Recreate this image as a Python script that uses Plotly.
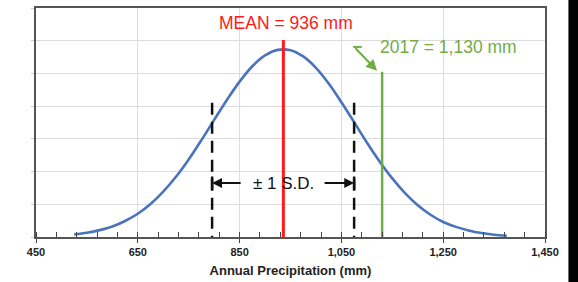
import plotly.graph_objects as go

# ---- data ----
curve_x = [525, 550, 575, 600, 625, 650, 675, 700, 725, 750, 775, 800, 825,
           850, 875, 900, 925, 950, 975, 1000, 1025, 1050, 1075, 1100, 1125,
           1150, 1175, 1200, 1225, 1250, 1275, 1300, 1325, 1350, 1375]
curve_y = [0.08, 0.13, 0.21, 0.32, 0.49, 0.71, 1.01, 1.39, 1.84, 2.37, 2.96,
           3.58, 4.19, 4.75, 5.22, 5.55, 5.72, 5.71, 5.52, 5.17, 4.69, 4.12,
           3.51, 2.89, 2.31, 1.79, 1.34, 0.97, 0.68, 0.46, 0.31, 0.20, 0.12,
           0.07, 0.04]

mean_value = 936
sd_values = [796, 1075]
year_value = 1130

mean_top = 6.02
sd_top = 4.1
year_top = 5.05

x_tickvals = [450, 650, 850, 1050, 1250, 1450]
x_ticktext = ["450", "650", "850", "1,050", "1,250", "1,450"]
y_gridvals = [0, 1, 2, 3, 4, 5, 6, 7]

mean_label = "MEAN = 936 mm"
year_label = "2017 = 1,130 mm"
sd_label = "± 1 S.D."
x_title = "Annual Precipitation (mm)"

FONT = "Liberation Sans, Arial, sans-serif"
BLUE = "#4a73bd"
RED = "#ff1a1a"
GREEN = "#70ad47"

fig = go.Figure()

fig.add_trace(go.Scatter(x=curve_x, y=curve_y, mode="lines",
                         line=dict(color=BLUE, width=2.6, shape="spline"),
                         hoverinfo="skip", showlegend=False))

# vertical marker lines
fig.add_trace(go.Scatter(x=[mean_value, mean_value], y=[0, mean_top], mode="lines",
                         line=dict(color=RED, width=3), showlegend=False,
                         hoverinfo="skip"))
fig.add_trace(go.Scatter(x=[year_value, year_value], y=[0, year_top], mode="lines",
                         line=dict(color=GREEN, width=2.5), showlegend=False,
                         hoverinfo="skip"))
for v in sd_values:
    fig.add_trace(go.Scatter(x=[v, v], y=[sd_top, 0], mode="lines",
                             line=dict(color="#111111", width=2.5, dash="12px,7px"),
                             showlegend=False, hoverinfo="skip"))

# text labels
fig.add_annotation(x=941, y=6.54, text=mean_label, showarrow=False,
                   font=dict(family=FONT, size=17.5, color=RED))
fig.add_annotation(x=1261, y=5.81, text=year_label, showarrow=False,
                   font=dict(family=FONT, size=17.5, color=GREEN))
fig.add_annotation(x=mean_value, y=1.65, text=sd_label, showarrow=False,
                   font=dict(family=FONT, size=17, color="#111111"))

# green arrow
fig.add_annotation(x=1120, y=5.08, ax=-23, ay=-24, text="", showarrow=True,
                   arrowhead=2, arrowsize=1.1, arrowwidth=2, arrowcolor=GREEN,
                   axref="pixel", ayref="pixel")
fig.add_shape(type="line", x0=1073, x1=1090, y0=5.81, y1=5.81,
              line=dict(color=GREEN, width=2))

# ± 1 S.D. arrows
fig.add_annotation(x=sd_values[0], y=1.65, ax=30, ay=0, text="", showarrow=True,
                   arrowhead=2, arrowsize=1.1, arrowwidth=1.8, arrowcolor="#111111")
fig.add_annotation(x=sd_values[1], y=1.65, ax=-31, ay=0, text="", showarrow=True,
                   arrowhead=2, arrowsize=1.1, arrowwidth=1.8, arrowcolor="#111111")
for v in sd_values:
    fig.add_shape(type="line", x0=v, x1=v, y0=1.45, y1=1.85,
                  line=dict(color="#111111", width=2.5))

# black stripe at right edge of picture
fig.add_shape(type="rect", xref="paper", yref="paper", x0=1.046, x1=1.2,
              y0=-0.3, y1=1.1, fillcolor="#000000", line=dict(width=0),
              layer="above")

fig.update_layout(
    width=578, height=282,
    margin=dict(l=36, r=33, t=8, b=45, autoexpand=False),
    paper_bgcolor="white", plot_bgcolor="white",
    font=dict(family=FONT, color="#222222"),
    showlegend=False,
)
fig.update_xaxes(
    range=[450, 1450], tickvals=x_tickvals, ticktext=x_ticktext,
    tickfont=dict(family=FONT, size=11, color="#222222", weight="bold"),
    showgrid=True, gridcolor="#dcdcdc", gridwidth=1,
    showline=True, linecolor="#555555", linewidth=1.5, mirror=True,
    ticks="outside", ticklen=4, tickcolor="#444444",
    minor=dict(dtick=40, tick0=450, ticks="inside", ticklen=5, tickcolor="#444444",
               showgrid=False),
    zeroline=False, automargin=False,
    title=dict(text=x_title, standoff=9,
               font=dict(family=FONT, size=13, color="#222222", weight="bold")),
)
fig.update_yaxes(
    range=[0, 7], tickvals=y_gridvals, showticklabels=False,
    showgrid=True, gridcolor="#dcdcdc", gridwidth=1,
    showline=True, linecolor="#555555", linewidth=1.5, mirror=True,
    ticks="outside", ticklen=3, tickcolor="#cccccc", zeroline=False,
    automargin=False,
)

fig.write_html("out.html", config={"displayModeBar": False},
               post_script="document.body.style.margin='0';"
                           "document.body.style.overflow='hidden';")
